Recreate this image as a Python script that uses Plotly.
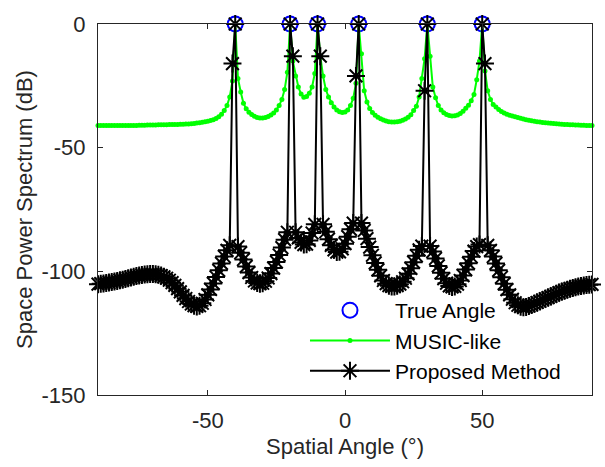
import plotly.graph_objects as go

angles = list(range(-90, 91))

true_angles = [-40, -20, -10, 5, 30, 50]
true_values = [0, 0, 0, 0, 0, 0]

music_like = (
    [-41.0] * 15
    + [-40.9, -40.9, -40.9, -40.8, -40.8, -40.8, -40.8, -40.7, -40.7, -40.7, -40.7, -40.6, -40.6, -40.6, -40.6]
    + [-40.5, -40.5, -40.4, -40.4, -40.3, -40.2, -40.0, -39.9, -39.7, -39.5, -39.3, -39.0, -38.7, -38.2, -37.5,
       -36.5, -35.0, -33.0, -29.5, -23.0]
    + [0.0]
    + [-22.0, -27.5, -32.0, -34.3, -35.7, -36.6, -37.3, -37.8, -38.0, -38.0, -37.8, -37.4, -36.8, -36.0, -34.8,
       -33.0, -30.5, -26.5, -19.5]
    + [0.0]
    + [-15.0, -21.0, -25.5, -28.3, -29.6, -29.3, -28.0, -25.5, -20.0]
    + [0.0]
    + [-13.0, -21.0, -26.5, -29.5, -31.8, -33.6, -34.8, -35.5, -35.8, -35.6, -34.8, -33.0, -30.0, -24.0]
    + [0.0]
    + [-12.0, -27.0, -31.5, -34.2, -35.8, -36.9, -37.7, -38.3, -38.8, -39.2, -39.5, -39.6, -39.6, -39.5, -39.3,
       -38.9, -38.4, -37.7, -36.7, -35.0, -33.3, -29.5, -22.0, -14.0]
    + [0.0]
    + [-13.0, -25.5, -29.8, -33.0, -34.8, -35.9, -36.6, -37.0, -37.2, -37.1, -36.8, -36.2, -35.3, -34.1, -32.8,
       -31.0, -28.5, -22.5, -15.0]
    + [0.0]
    + [-19.0, -27.0, -30.5, -32.5, -33.6, -34.6, -35.4, -36.0, -36.5, -36.9,
       -37.2, -37.5, -37.8, -38.1, -38.4, -38.7, -38.9, -39.1, -39.3, -39.5,
       -39.6, -39.8, -39.9, -40.0, -40.1, -40.2, -40.3, -40.4, -40.5, -40.6,
       -40.6, -40.7, -40.7, -40.8, -40.8, -40.9, -40.9, -41.0, -41.0, -41.0]
)

proposed = (
    [-105.2, -105.0, -104.9, -104.7, -104.5, -104.3, -104.1, -103.9, -103.6, -103.4,
     -103.1, -102.8, -102.5, -102.2, -101.9, -101.7, -101.5, -101.3, -101.2, -101.1]
    + [-101.1, -101.2, -101.4, -101.7, -102.2, -102.8, -103.6, -104.6, -105.7, -107.0,
       -108.3, -109.7, -111.0, -112.2, -113.2, -113.9, -114.2, -113.9, -112.9, -111.4,
       -109.5, -107.3, -104.9, -102.3, -99.6, -96.8, -94.0, -91.5, -89.5]
    + [-16.0, 0.0]
    + [-90.0, -92.5, -95.2, -98.0, -100.5, -102.5, -103.9, -104.7, -105.0, -104.8,
       -104.0, -102.7, -100.9, -98.7, -96.2, -93.4, -90.4, -87.2, -84.2]
    + [0.0, -13.0]
    + [-84.2, -86.5, -88.3, -89.2, -89.0, -87.5, -84.5, -81.0]
    + [0.0, -13.0]
    + [-81.0, -84.0, -87.0, -89.5, -91.3, -92.2, -92.1, -90.9, -88.8, -86.0, -83.0, -80.5]
    + [-21.0, 0.0]
    + [-80.5, -83.5, -86.8, -90.2, -93.5, -96.6, -99.4, -101.8, -103.7, -105.0,
       -105.8, -106.1, -106.1, -105.8, -105.2, -104.2, -102.8, -101.0, -98.8, -96.3,
       -93.7, -91.3, -89.8]
    + [-27.0, 0.0]
    + [-89.8, -92.0, -94.8, -97.8, -100.6, -103.0, -104.8, -105.9, -106.3, -106.1,
       -105.2, -103.7, -101.7, -99.3, -96.7, -94.1, -91.8, -90.0, -89.2]
    + [0.0, -16.0]
    + [-89.5, -91.5, -94.0, -96.8, -99.6, -102.4, -105.0, -107.4, -109.5, -111.3,
       -112.7, -113.7, -114.3, -114.5, -114.4, -114.0, -113.6, -113.1, -112.6, -112.1,
       -111.6, -111.1, -110.6, -110.1, -109.6, -109.1, -108.6, -108.2, -107.8, -107.4,
       -107.0, -106.7, -106.4, -106.1, -105.9, -105.7, -105.5, -105.4, -105.3]
)

x_ticks = [-50, 0, 50]
x_ticktext = ["-50", "0", "50"]
y_ticks = [-150, -100, -50, 0]
y_ticktext = ["-150", "-100", "-50", "0"]

FONT = "Liberation Sans, Arial, sans-serif"

fig = go.Figure()
fig.add_trace(go.Scatter(
    x=true_angles, y=true_values, mode="markers", name="True Angle",
    marker=dict(symbol="circle-open", size=15, color="#0000FF", line=dict(width=2, color="#0000FF")),
    cliponaxis=False,
))
fig.add_trace(go.Scatter(
    x=angles, y=music_like, mode="lines+markers", name="MUSIC-like",
    line=dict(color="#00FF00", width=2),
    marker=dict(symbol="circle", size=5, color="#00FF00"),
    cliponaxis=False,
))
fig.add_trace(go.Scatter(
    x=angles, y=proposed, mode="lines+markers", name="Proposed Method",
    line=dict(color="black", width=2),
    marker=dict(symbol="asterisk-open", size=15, color="black", line=dict(width=2, color="black")),
    cliponaxis=False,
))

axis_common = dict(
    showline=True, linecolor="#262626", linewidth=1, mirror="ticks",
    ticks="inside", ticklen=5, tickcolor="#262626", showgrid=False, zeroline=False,
    tickfont=dict(family=FONT, size=22, color="#262626"),
)

fig.update_layout(
    width=605, height=467,
    margin=dict(l=98, r=13, t=19, b=71),
    plot_bgcolor="white", paper_bgcolor="white",
    font=dict(family=FONT, size=22, color="#262626"),
    xaxis=dict(range=[-90, 90], tickvals=x_ticks, ticktext=x_ticktext, ticklabelstandoff=6,
               title=dict(text="Spatial Angle (°)", font=dict(family=FONT, size=22, color="#262626"), standoff=6),
               **axis_common),
    yaxis=dict(range=[-150, 0], tickvals=y_ticks, ticktext=y_ticktext, ticklabelstandoff=7,
               title=dict(text="Space Power Spectrum (dB)", font=dict(family=FONT, size=22, color="#262626"), standoff=2),
               **axis_common),
    legend=dict(x=0.419, y=0.283, xanchor="left", yanchor="top",
                bgcolor="rgba(0,0,0,0)", borderwidth=0,
                font=dict(family=FONT, size=21, color="black"),
                itemwidth=80),
    showlegend=True,
)

fig.write_html("out.html")
